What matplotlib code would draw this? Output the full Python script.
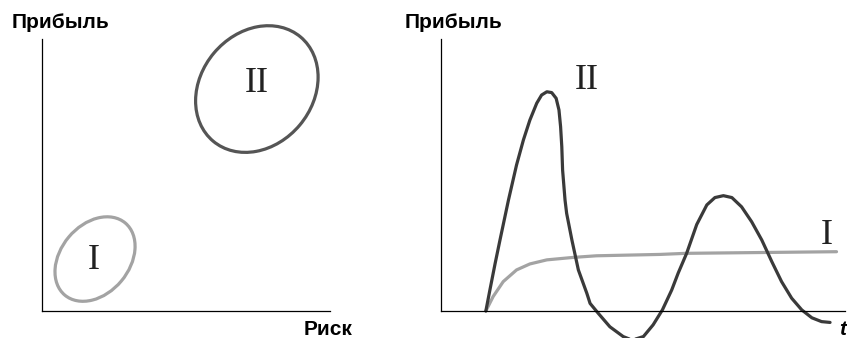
import matplotlib
matplotlib.use('Agg')
import matplotlib.pyplot as plt
from matplotlib.patches import Ellipse

# left panel: two risk/profit zones (centre x, centre y, width, height, angle)
zoneNames = ['I', 'II']
zoneCenters = [(19.5, 19.1), (79.0, 81.6)]
zoneSizes = [(34.6, 25.2), (50.0, 41.2)]
zoneAngles = [50, 50]
zoneColors = ['#a3a3a3', '#555555']
zoneLabelPos = [(19.0, 18.4), (79.0, 83.5)]

# right panel: profit over time
tII = [11.1, 12.1, 13.4, 14.6, 16.7, 18.7, 20.4, 22.0, 23.7, 24.9, 26.2, 27.4, 28.5,
       29.2, 29.6, 29.9, 30.1, 30.7, 31.1, 32.4, 34.0, 36.1, 36.9, 38.9, 41.8, 45.1,
       47.3, 50.1, 52.5, 54.8, 57.1, 58.7, 60.8, 63.3, 65.8, 67.8, 69.9, 72.0, 74.4,
       76.9, 79.4, 81.9, 84.3, 86.8, 89.3, 91.8, 94.2, 96.3]
profitII = [0.0, 7.7, 17.5, 26.1, 40.8, 53.7, 62.9, 70.2, 76.4, 79.4, 80.6, 80.3, 78.2,
            73.9, 67.8, 60.4, 51.8, 40.8, 35.9, 26.1, 15.1, 6.5, 2.8, -0.8, -5.8, -9.4,
            -10.7, -9.4, -5.1, 0.4, 7.7, 13.9, 21.2, 31.8, 39.0, 41.7, 42.4, 41.7, 38.3,
            32.8, 26.1, 18.1, 10.8, 4.7, 0.4, -2.5, -3.9, -4.2]
tI = [11.1, 12.9, 15.4, 18.7, 22.0, 26.2, 32.7, 38.5, 54.2, 60.6, 97.9]
profitI = [0.0, 5.3, 10.8, 15.1, 17.3, 18.8, 19.7, 20.3, 20.8, 21.2, 21.8]

fig = plt.figure(figsize=(8.47, 3.38), dpi=100)

def setupAxes(ax):
    for s in ['top', 'right']:
        ax.spines[s].set_visible(False)
    for s in ['left', 'bottom']:
        ax.spines[s].set_linewidth(0.9)
        ax.spines[s].set_color('black')
    ax.set_xticks([])
    ax.set_yticks([])
    ax.patch.set_alpha(0)

axLeft = fig.add_axes([42/847, 27/338, 288/847, 272/338])
setupAxes(axLeft)
axLeft.set_xlim(0, 105.9)
axLeft.set_ylim(0, 100)
for name, c, sz, ang, col, lp in zip(zoneNames, zoneCenters, zoneSizes, zoneAngles, zoneColors, zoneLabelPos):
    axLeft.add_patch(Ellipse(c, sz[0], sz[1], angle=ang, fill=False, edgecolor=col, linewidth=2.3, clip_on=False))
    axLeft.text(lp[0], lp[1], name, family='Liberation Serif', fontsize=26, ha='center', va='center', color='#222222')

axRight = fig.add_axes([441/847, 27/338, 404/847, 272/338])
setupAxes(axRight)
axRight.set_xlim(0, 100)
axRight.set_ylim(0, 100)
axRight.plot(tI, profitI, color='#a3a3a3', linewidth=2.3, clip_on=False, solid_joinstyle='round', solid_capstyle='round')
axRight.plot(tII, profitII, color='#3a3a3a', linewidth=2.3, clip_on=False, solid_joinstyle='round', solid_capstyle='round')
axRight.text(36.1, 84.6, 'II', family='Liberation Serif', fontsize=26, ha='center', va='center', color='#222222')
axRight.text(95.5, 27.9, 'I', family='Liberation Serif', fontsize=26, ha='center', va='center', color='#222222')

# axis titles
fig.text(12/847, 1 - 22.7/338, 'Прибыль', family='Liberation Sans', weight='bold', fontsize=15, ha='left', va='center')
fig.text(405/847, 1 - 22.7/338, 'Прибыль', family='Liberation Sans', weight='bold', fontsize=15, ha='left', va='center')
fig.text(352/847, 3/338, 'Риск', family='Liberation Sans', weight='bold', fontsize=15, ha='right', va='baseline')
fig.text(843/847, 3/338, 't', family='Liberation Sans', weight='bold', style='italic', fontsize=15, ha='center', va='baseline')

fig.savefig('out.png', dpi=100)
